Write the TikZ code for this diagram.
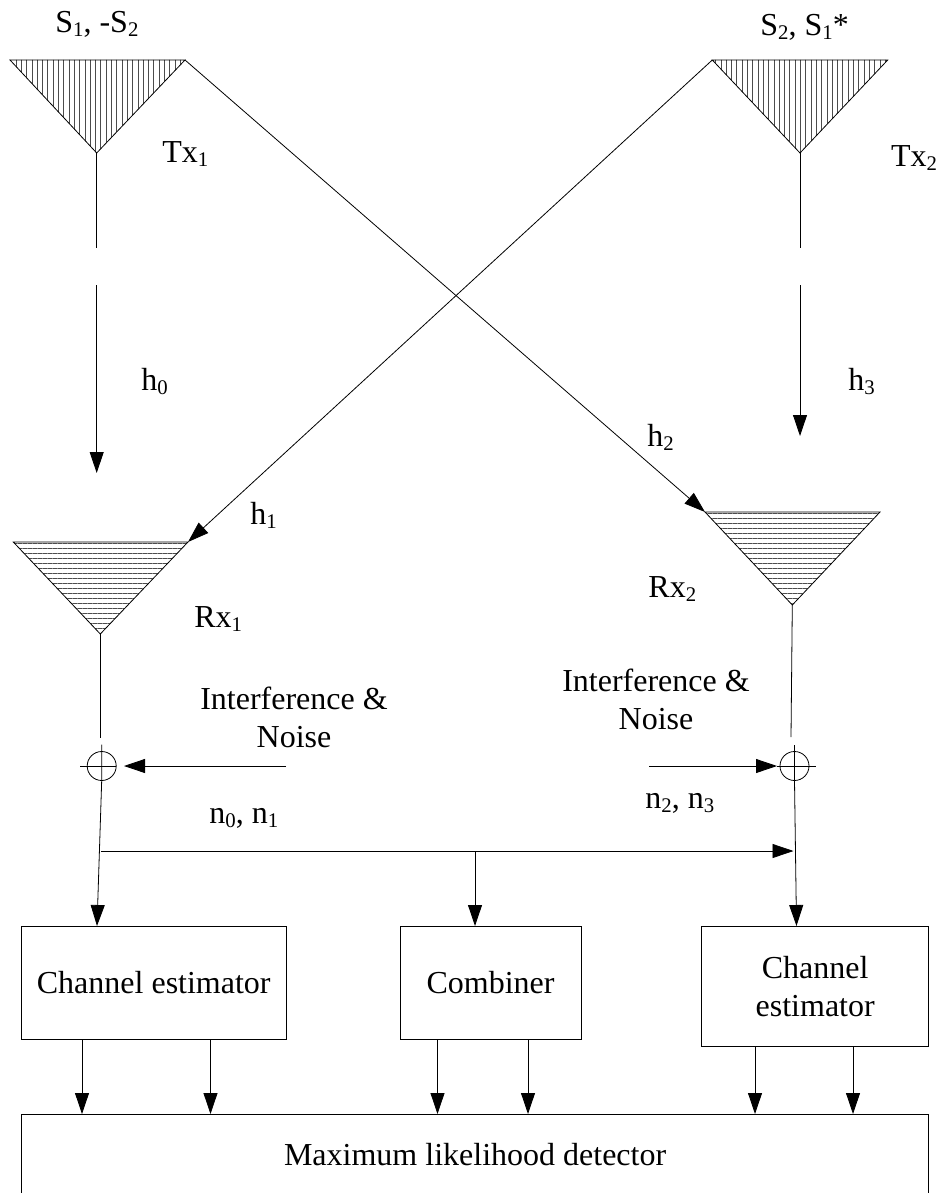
\documentclass[tikz,border=0pt]{standalone}
\usepackage{fontspec}
\setmainfont{Liberation Serif}
\usetikzlibrary{
		arrows.meta,
		patterns.meta,
		positioning
	}
\newcommand{\lowsub}[1]{\raisebox{-4pt}{\fontsize{20.8}{20.8}\selectfont #1}}
\tikzset{
		>={Triangle[length=21pt,width=14pt]},
		every path/.style={line width=0.8pt},
		every node/.style={font=\fontsize{32}{38}\selectfont},
		label text/.style={anchor=base west,inner sep=0pt},
		noise text/.style={align=center,inner sep=0pt},
		block/.style={draw,inner sep=0pt,outer sep=0pt,align=center},
		adder/.style={draw,circle,inner sep=0pt,outer sep=0pt,minimum size=29pt},
		tx hatch/.style={pattern={Lines[angle=90,distance=5.3pt,line width=0.6pt]},pattern color=black!70},
		rx hatch/.style={pattern={Lines[angle=0,distance=5pt,line width=0.6pt]},pattern color=black!70}
	}
\begin{document}
\begin{tikzpicture}[x=1pt,y=-1pt]
    \useasboundingbox (0,0) rectangle (939,1193);

    % the corners of the antennas
    \coordinate (tx1l) at (10,60);
    \coordinate (tx1r) at (185,60);
    \coordinate (tx1b) at (96.7,153);
    \coordinate (tx2l) at (712.3,60);
    \coordinate (tx2r) at (887.7,60);
    \coordinate (tx2b) at (800,153);
    \coordinate (rx1l) at (13.3,542);
    \coordinate (rx1r) at (188,542);
    \coordinate (rx1b) at (100.3,634);
    \coordinate (rx2l) at (705,512);
    \coordinate (rx2r) at (880,512);
    \coordinate (rx2b) at (792.3,605);

    % draw the antennas
    \draw[tx hatch] (tx1l) -- (tx1r) -- (tx1b) -- cycle;
    \draw[tx hatch] (tx2l) -- (tx2r) -- (tx2b) -- cycle;
    \draw[rx hatch] (rx1l) -- (rx1r) -- (rx1b) -- cycle;
    \draw[rx hatch] (rx2l) -- (rx2r) -- (rx2b) -- cycle;

    % the texts
    \node[label text] (s1) at (55,33) {S\lowsub{1}, -S\lowsub{2}};
    \node[label text] (s2) at (760,36) {S\lowsub{2}, S\lowsub{1}*};
    \node[label text] (tx1) at (162,163) {Tx\lowsub{1}};
    \node[label text] (tx2) at (890.7,166.7) {Tx\lowsub{2}};
    \node[label text] (h0) at (141,390) {h\lowsub{0}};
    \node[label text] (h1) at (250,524) {h\lowsub{1}};
    \node[label text] (h2) at (647,446) {h\lowsub{2}};
    \node[label text] (h3) at (848,390) {h\lowsub{3}};
    \node[label text] (rx1) at (194,627) {Rx\lowsub{1}};
    \node[label text] (rx2) at (648,597) {Rx\lowsub{2}};
    \node[noise text] (noise1) at (294,717) {Interference \&\\Noise};
    \node[noise text] (noise2) at (656,699) {Interference \&\\Noise};
    \node[label text] (n01) at (209,823) {n\lowsub{0}, n\lowsub{1}};
    \node[label text] (n23) at (645,808) {n\lowsub{2}, n\lowsub{3}};

    % the blocks
    \node[block,minimum width=264.5pt,minimum height=113pt] (est1) at (153.75,982.5) {Channel estimator};
    \node[block,minimum width=181pt,minimum height=113pt] (comb) at (490.5,982.5) {Combiner};
    \node[block,minimum width=227pt,minimum height=120.7pt] (est2) at (815.2,986.3) {Channel\\estimator};
    \node[block,minimum width=907.2pt,minimum height=82pt] (ml) at (475.1,1155) {Maximum likelihood detector};

    % the adders, and the ends of the lines around them
    \node[adder] (sum1) at (101.7,766) {};
    \node[adder] (sum2) at (794.5,766) {};
    \coordinate (sum1top) at (101.7,744.5);
    \coordinate (sum1left) at (80,766);
    \coordinate (sum2top) at (794.5,745);
    \coordinate (sum2right) at (815.7,766);
    \coordinate (stem1) at (100.3,738);
    \coordinate (stem2) at (791,737);
    \coordinate (in1) at (286,766);
    \coordinate (in2) at (649,766);
    \coordinate (tip1) at (124,766);
    \coordinate (tip2) at (777,766);
    \draw (sum1left) -- (sum1.east);
    \draw (sum2.west) -- (sum2right);

    % the gaps in the two paths from the transmitters
    \coordinate (gap1a) at (96.7,248);
    \coordinate (gap1b) at (96.7,285.3);
    \coordinate (end1) at (96.7,473);
    \coordinate (gap2a) at (800,248);
    \coordinate (gap2b) at (800,285);
    \coordinate (end2) at (800,436);

    %draw the arrows
    \draw (tx1b) -- (gap1a);
    \draw[->] (gap1b) -- (end1);
    \draw (tx2b) -- (gap2a);
    \draw[->] (gap2b) -- (end2);

    \draw[->] (tx1r) -- (rx2l);
    \draw[->] (tx2l) -- (rx1r);

    \draw (rx1b) -- (stem1);
    \draw (rx2b) -- (stem2);
    \draw[->] (in1) -- (tip1);
    \draw[->] (in2) -- (tip2);
    \draw (tip2) -- (sum2.west);

    \draw[->] (sum1top) -- (sum1.south) -- (97,926);
    \draw[->] (sum2top) -- (sum2.south) -- (796.5,926);

    % the line between the two receivers
    \coordinate (busl) at (101.3,851);
    \coordinate (busr) at (793.5,851);
    \coordinate (bustap) at (475,851);
    \draw[->] (busl) -- (busr);
    \draw[->] (bustap) -- (bustap |- comb.north);

    \draw[->] (est1.south -| 82,0) -- (ml.north -| 82,0);
    \draw[->] (est1.south -| 210.5,0) -- (ml.north -| 210.5,0);
    \draw[->] (comb.south -| 437.5,0) -- (ml.north -| 437.5,0);
    \draw[->] (comb.south -| 528,0) -- (ml.north -| 528,0);
    \draw[->] (est2.south -| 755,0) -- (ml.north -| 755,0);
    \draw[->] (est2.south -| 853,0) -- (ml.north -| 853,0);
\end{tikzpicture}
\end{document}
